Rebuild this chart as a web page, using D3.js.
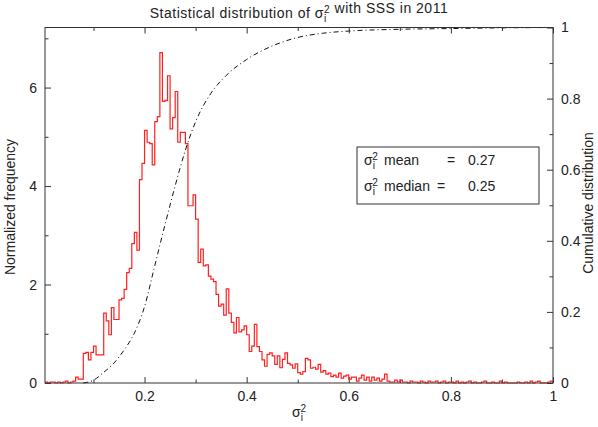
<!DOCTYPE html>
<html>
<head>
<meta charset="utf-8">
<script src="https://cdn.jsdelivr.net/npm/d3@7"></script>
<style>
  body { margin: 0; background: #fff; }
  text { font-family: "Liberation Sans", Arial, sans-serif; fill: #222; }
</style>
</head>
<body>
<svg id="chart" width="598" height="427"></svg>
<script>
'use strict'

// histogram: normalized frequency per bin of width 0.005, starting at 0.005
var binStart = 0.005,
    binWidth = 0.005;
var freq = [
  0.02, 0, 0.02, 0.02, 0, 0.02, 0, 0.02, 0.04, 0, 0.02, 0.04, 0.12, 0.08, 0.08,
  0.60, 0.62, 0.47, 0.62, 0.75, 0.57, 0.57, 0.57,
  1.42, 1.26, 0.98, 1.53, 1.29, 1.29,
  1.69, 1.72, 1.90, 2.24, 2.33, 2.83, 3.06, 2.70,
  4.13, 4.46, 5.13, 4.89, 4.86, 4.43, 5.31, 5.41,
  6.71, 5.72, 5.74, 6.24, 5.16, 5.39, 5.92, 4.89, 5.09, 5.09, 4.86,
  3.60, 3.60, 3.82, 3.33, 2.45, 2.72, 2.38, 2.40, 2.17, 2.11, 2.06,
  1.80, 1.56, 1.60, 1.38, 1.91, 1.42, 1.23, 1.02, 1.33, 1.04, 1.08, 1.16, 0.98,
  0.64, 0.75, 1.19, 0.74, 0.64, 0.47, 0.34, 0.58, 0.61, 0.55, 0.38, 0.55, 0.31,
  0.48, 0.61, 0.40, 0.37, 0.30, 0.39, 0.21, 0.18, 0.23, 0.50,
  0.47, 0.30, 0.32, 0.28, 0.38, 0.22, 0.25, 0.18, 0.20, 0.13, 0.16, 0.12, 0.20,
  0.10, 0.14, 0.16, 0.08, 0.12, 0.12, 0.04, 0.10, 0.16, 0.06, 0.12, 0.04, 0.12,
  0.06, 0.10, 0.04, 0.08, 0.18,
  0.04, 0.02, 0.02, 0.06, 0.02, 0.06, 0.02, 0.02, 0, 0.04,
  0.02, 0.02, 0, 0.04, 0.02, 0, 0.04, 0.02, 0.02, 0.04,
  0, 0.02, 0.04, 0, 0.02, 0.02, 0, 0.04, 0, 0.02,
  0, 0.02, 0.04, 0, 0.02, 0, 0, 0.02, 0.04, 0,
  0, 0.02, 0, 0, 0.04, 0, 0.02, 0, 0, 0,
  0, 0.02, 0, 0, 0.02, 0, 0.04, 0, 0.02, 0.04,
  0, 0, 0, 0.02, 0.04
];

// cumulative distribution
var cdfX = [0.08, 0.10, 0.12, 0.14, 0.16, 0.18, 0.20, 0.22, 0.24, 0.26, 0.28, 0.30,
            0.33, 0.36, 0.40, 0.45, 0.50, 0.55, 0.60, 0.70, 0.80, 0.90, 1.00];
var cdfY = [0.0, 0.008, 0.03, 0.056, 0.093, 0.14, 0.215, 0.33, 0.445, 0.555, 0.655, 0.735,
            0.815, 0.865, 0.91, 0.948, 0.972, 0.984, 0.99, 0.995, 0.997, 0.999, 1.0];

var xTicks = [0.2, 0.4, 0.6, 0.8, 1],
    xMinor = [0.1, 0.3, 0.5, 0.7, 0.9],
    yTicks = [0, 2, 4, 6],
    yMinor = [1, 3, 5, 7],
    cTicks = [0, 0.2, 0.4, 0.6, 0.8, 1],
    cMinor = [0.1, 0.3, 0.5, 0.7, 0.9];

var statNames = ["mean", "median"],
    statValues = ["0.27", "0.25"];

var mLeft = 45, mRight = 553, mTop = 27.5, mBottom = 383;

var svg = d3.select("#chart");

var x = d3.scaleLinear().domain([0.005, 1]).range([mLeft, mRight]);
var y = d3.scaleLinear().domain([0, 7.22]).range([mBottom, mTop]);
var yc = d3.scaleLinear().domain([0, 1]).range([mBottom, mTop]);

var fmt = function(d) { return String(d); };

function axis(gen, tr, vals, size, labels) {
  var g = svg.append("g")
      .attr("transform", tr)
      .call(gen.tickValues(vals).tickSizeInner(size).tickSizeOuter(0)
        .tickPadding(labels ? 8 : 0)
        .tickFormat(labels ? fmt : ""));
  g.select(".domain").remove();
  g.selectAll("line").attr("stroke", "#333");
  g.selectAll("text").attr("font-size", 14).attr("fill", "#222")
    .attr("font-family", "'Liberation Sans', Arial, sans-serif");
  return g;
}

axis(d3.axisBottom(x), "translate(0," + mBottom + ")", xTicks, -6, true);
axis(d3.axisBottom(x), "translate(0," + mBottom + ")", xMinor, -3.5, false);
axis(d3.axisTop(x), "translate(0," + mTop + ")", xTicks, -6, false);
axis(d3.axisTop(x), "translate(0," + mTop + ")", xMinor, -3.5, false);
axis(d3.axisLeft(y), "translate(" + mLeft + ",0)", yTicks, -6, true);
axis(d3.axisLeft(y), "translate(" + mLeft + ",0)", yMinor, -3.5, false);
axis(d3.axisRight(yc), "translate(" + mRight + ",0)", cTicks, -6, true);
axis(d3.axisRight(yc), "translate(" + mRight + ",0)", cMinor, -3.5, false);

// histogram outline
var pts = freq.map(function(f, i) { return [binStart + i * binWidth, f]; });
pts.push([1, freq[freq.length - 1]]);

svg.append("path")
    .datum(pts)
    .attr("fill", "none")
    .attr("stroke", "#ff2020")
    .attr("stroke-width", 1.2)
    .attr("d", d3.line()
      .x(function(d) { return x(d[0]); })
      .y(function(d) { return y(d[1]); })
      .curve(d3.curveStepAfter));

// cumulative curve
svg.append("path")
    .datum(cdfX.map(function(v, i) { return [v, cdfY[i]]; }))
    .attr("fill", "none")
    .attr("stroke", "#111")
    .attr("stroke-width", 1)
    .attr("stroke-dasharray", "5,3,1,3")
    .attr("d", d3.line()
      .x(function(d) { return x(d[0]); })
      .y(function(d) { return yc(d[1]); })
      .curve(d3.curveMonotoneX));

// frame
svg.append("rect")
    .attr("x", mLeft).attr("y", mTop)
    .attr("width", mRight - mLeft).attr("height", mBottom - mTop)
    .attr("fill", "none").attr("stroke", "#333").attr("stroke-width", 1);

// sigma_i^2 as text
function sigma(t, size) {
  t.append("tspan").text("σ");
  t.append("tspan").attr("font-size", size * 0.72).attr("dy", size * 0.28).text("i");
  t.append("tspan").attr("font-size", size * 0.72).attr("dx", -size * 0.18).attr("dy", -size * 0.64).text("2");
  t.append("tspan").attr("dy", size * 0.36).text("");
}

var title = svg.append("text")
    .attr("x", 299).attr("y", 18)
    .attr("text-anchor", "middle")
    .attr("letter-spacing", 0.5)
    .attr("font-size", 14);
title.append("tspan").text("Statistical distribution of ");
sigma(title, 14);
title.append("tspan").text(" with SSS in 2011");

var xl = svg.append("text")
    .attr("x", 299).attr("y", 417)
    .attr("text-anchor", "middle")
    .attr("font-size", 14);
sigma(xl, 14);

svg.append("text")
    .attr("transform", "translate(15,207) rotate(-90)")
    .attr("text-anchor", "middle")
    .attr("font-size", 14)
    .text("Normalized frequency");

svg.append("text")
    .attr("transform", "translate(593,203) rotate(-90)")
    .attr("text-anchor", "middle")
    .attr("font-size", 14)
    .text("Cumulative distribution");

// statistics box
svg.append("rect")
    .attr("x", 357).attr("y", 147)
    .attr("width", 182).attr("height", 57)
    .attr("fill", "#fff").attr("stroke", "#333").attr("stroke-width", 1);

statNames.forEach(function(name, i) {
  var yy = 165 + i * 26;
  var t = svg.append("text").attr("x", 364).attr("y", yy).attr("font-size", 14);
  sigma(t, 14);
  svg.append("text").attr("x", 384).attr("y", yy).attr("font-size", 14).text(name);
  svg.append("text").attr("x", i === 0 ? 447 : 437).attr("y", yy).attr("font-size", 14).text("=");
  svg.append("text").attr("x", 468).attr("y", yy).attr("font-size", 14).text(statValues[i]);
});
</script>
</body>
</html>
